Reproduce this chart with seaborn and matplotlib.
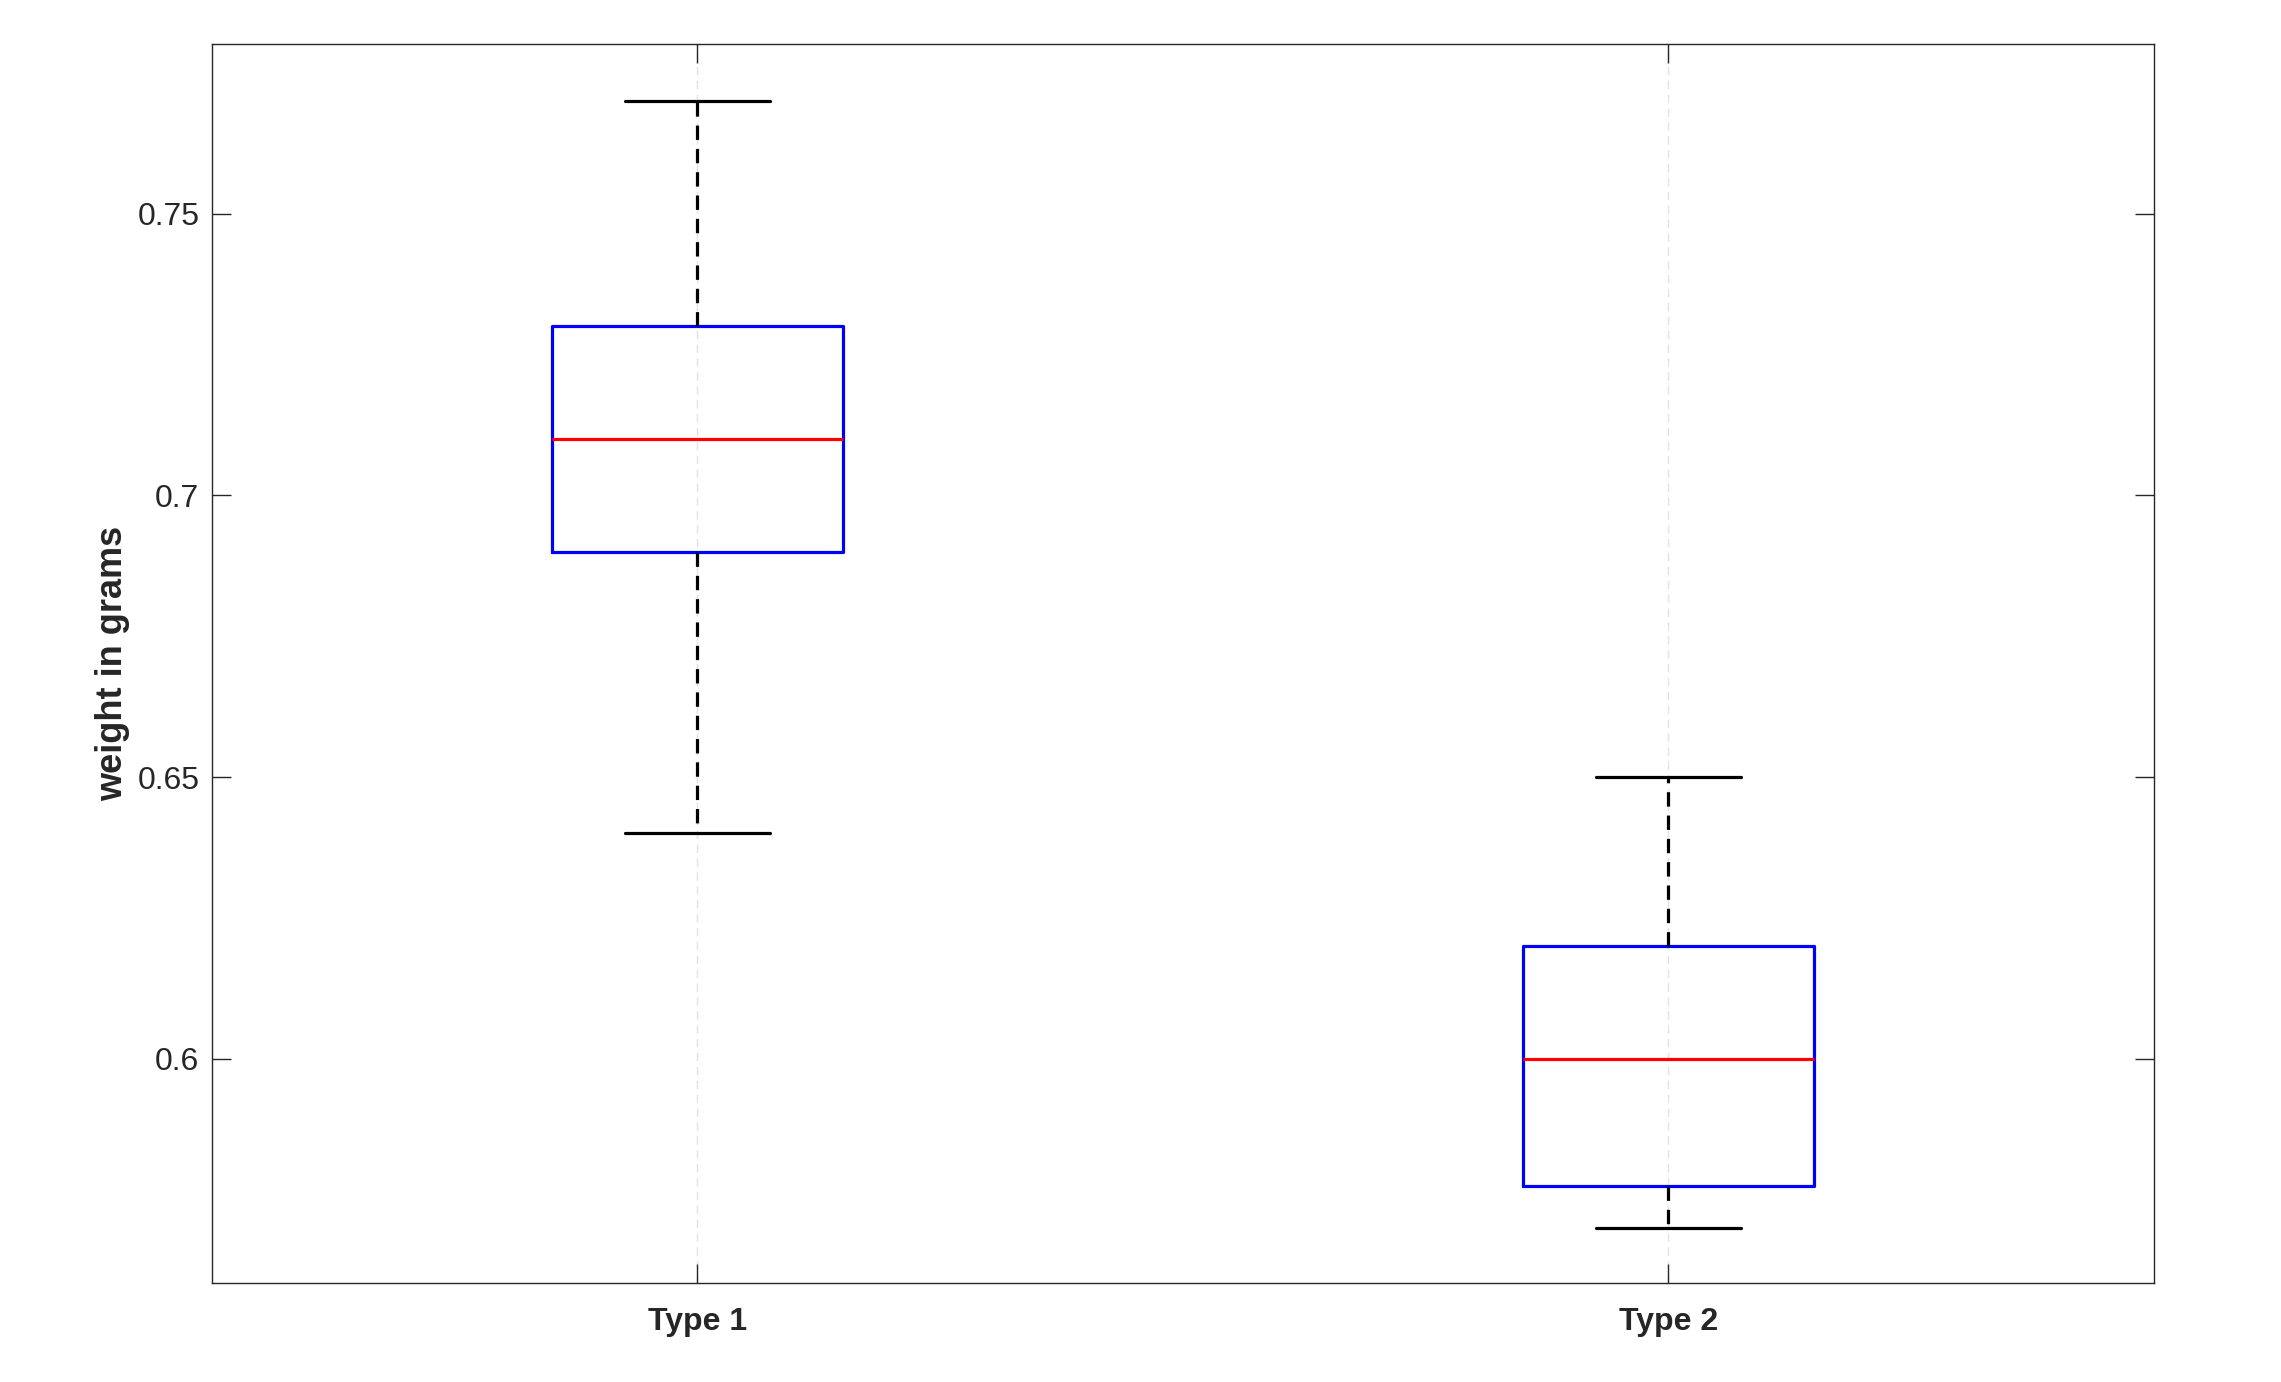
import matplotlib
matplotlib.use("Agg")
import matplotlib.pyplot as plt
import seaborn as sns
import pandas as pd

# Data (five-number summaries per type)
categories = ["Type 1", "Type 2"]
type1_values = [0.64, 0.69, 0.71, 0.73, 0.77]
type2_values = [0.57, 0.5775, 0.60, 0.62, 0.65]
ytick_values = [0.6, 0.65, 0.7, 0.75]
ytick_labels = ["0.6", "0.65", "0.7", "0.75"]
ylabel_text = "weight in grams"

df = pd.DataFrame({
    "type": [categories[0]] * len(type1_values) + [categories[1]] * len(type2_values),
    "weight": type1_values + type2_values,
})

sns.set_style("white")
plt.rcParams["font.family"] = ["Liberation Sans", "DejaVu Sans"]

fig = plt.figure(figsize=(22.81, 13.82), dpi=100)
ax = fig.add_axes([0.0929, 0.0716, 0.9443 - 0.0929, 0.9682 - 0.0716])

sns.boxplot(
    data=df, x="type", y="weight", order=categories, ax=ax,
    fill=False, width=0.3, whis=1.5, linecolor="blue", linewidth=2.3,
    boxprops={"color": "blue", "linewidth": 2.3},
    medianprops={"color": "red", "linewidth": 2.3},
    whiskerprops={"color": "black", "linewidth": 2.3, "linestyle": (0, (4.5, 2.8))},
    capprops={"color": "black", "linewidth": 2.3},
    showfliers=False,
)

ax.xaxis.grid(True, linestyle=(0, (6, 4)), color="#e3e3e3", linewidth=1.0)
ax.yaxis.grid(False)
ax.set_axisbelow(True)

ax.set_xlim(-0.5, 1.5)
ax.set_ylim(0.5602, 0.7801)
ax.set_yticks(ytick_values)
ax.set_yticklabels(ytick_labels)
ax.set_xticks([0, 1])
ax.set_xticklabels(categories, fontweight="bold")

ax.tick_params(axis="both", direction="in", length=14, width=1.0, color="#262626",
               top=True, right=True, bottom=True, left=True, labelcolor="#262626")
ax.tick_params(axis="y", labelsize=23, pad=9)
ax.tick_params(axis="x", labelsize=23, pad=17)

ax.set_xlabel("")
ax.set_ylabel(ylabel_text, fontsize=26, fontweight="bold", color="#262626", labelpad=5)

for s in ax.spines.values():
    s.set_visible(True)
    s.set_color("#262626")
    s.set_linewidth(1.0)

fig.savefig("out.png", dpi=100, facecolor="white")
